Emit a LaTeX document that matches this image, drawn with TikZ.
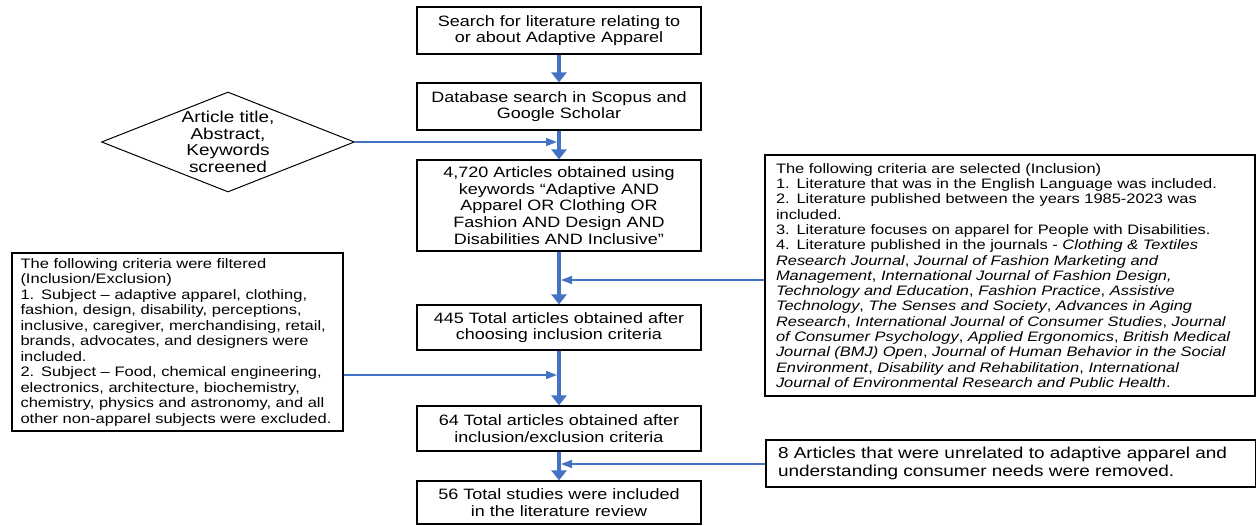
\documentclass[tikz,border=0pt]{standalone}
\usepackage{fontspec}
\setmainfont{Liberation Sans}[FakeStretch=1.2]
\usetikzlibrary{arrows.meta,shapes.geometric}
\definecolor{flowblue}{RGB}{68,114,196}
\hyphenpenalty=10000

\begin{document}
\begin{tikzpicture}[x=1pt,y=-1pt,
stage/.style={draw,line width=1.2pt,minimum width=284pt,inner sep=0pt,align=center,font=\fontsize{15}{16.7}\selectfont},
note/.style={draw,line width=1.2pt,inner xsep=12pt,inner ysep=3pt,align=left},
flow/.style={flowblue,line width=3.3pt,-{Triangle[length=10pt,width=15pt]}},
side/.style={flowblue,line width=1.4pt,-{Triangle[length=11pt,width=8pt]}}]
\useasboundingbox (0,0) rectangle (1256,525);

\node[stage,minimum height=47pt] (search) at (559,30.5) {Search for literature relating to\\or about Adaptive Apparel};
\node[stage,minimum height=47pt] (dbase) at (559,106.5) {Database search in Scopus and\\Google Scholar};
\node[stage,minimum height=91pt] (kwords) at (559,205.5) {4,720 Articles obtained using\\keywords “Adaptive AND\\Apparel OR Clothing OR\\Fashion AND Design AND\\Disabilities AND Inclusive”};
\node[stage,minimum height=45pt] (incl445) at (559,327.5) {445 Total articles obtained after\\choosing inclusion criteria};
\node[stage,minimum height=45pt] (incl64) at (559,428.5) {64 Total articles obtained after\\inclusion/exclusion criteria};
\node[stage,minimum height=43pt] (final56) at (559,502.5) {56 Total studies were included\\in the literature review};

\node[diamond,draw,line width=1pt,aspect=2.53,inner sep=0pt,minimum width=253pt,minimum height=100pt,align=center,font=\fontsize{15.8}{16.7}\selectfont] (screen) at (228,142) {Article title,\\Abstract,\\Keywords\\screened};

\node[note,inner xsep=8.5pt,text width=314pt,minimum height=178pt,font=\fontsize{13.75}{15.5}\selectfont] (filter) at (177.5,342) {The following criteria were filtered\\(Inclusion/Exclusion)\\1. Subject -- adaptive apparel, clothing,\\fashion, design, disability, perceptions,\\inclusive, caregiver, merchandising, retail,\\brands, advocates, and designers were\\included.\\2. Subject -- Food, chemical engineering,\\electronics, architecture, biochemistry,\\chemistry, physics and astronomy, and all\\other non-apparel subjects were excluded.};

\node[note,inner xsep=11pt,text width=468pt,minimum height=241pt,font=\fontsize{13.7}{15.3}\selectfont] (criteria) at (1010,275.5) {The following criteria are selected (Inclusion)\\1. Literature that was in the English Language was included.\\2. Literature published between the years 1985-2023 was\\included.\\3. Literature focuses on apparel for People with Disabilities.\\4. Literature published in the journals - \textit{Clothing \& Textiles}\\\textit{Research Journal}, \textit{Journal of Fashion Marketing and}\\\textit{Management}, \textit{International Journal of Fashion Design,}\\\textit{Technology and Education}, \textit{Fashion Practice}, \textit{Assistive}\\\textit{Technology}, \textit{The Senses and Society}, \textit{Advances in Aging}\\\textit{Research}, \textit{International Journal of Consumer Studies}, \textit{Journal}\\\textit{of Consumer Psychology}, \textit{Applied Ergonomics}, \textit{British Medical}\\\textit{Journal (BMJ) Open}, \textit{Journal of Human Behavior in the Social}\\\textit{Environment}, \textit{Disability and Rehabilitation}, \textit{International}\\\textit{Journal of Environmental Research and Public Health}.};

\node[note,text width=466pt,minimum height=47pt,font=\fontsize{15.8}{17.7}\selectfont] (removed) at (1011,463.5) {8 Articles that were unrelated to adaptive apparel and\\understanding consumer needs were removed.};

\coordinate (j1) at (557,142);
\coordinate (j2) at (561,280);
\coordinate (j3) at (557,375);
\coordinate (j4) at (561,464);

\draw[flow] (search)--(dbase);
\draw[flow] (dbase)--(kwords);
\draw[flow] (kwords)--(incl445);
\draw[flow] (incl445)--(incl64);
\draw[flow] (incl64)--(final56);
\draw[side] (screen.east)--(j1);
\draw[side] (criteria.west|-j2)--(j2);
\draw[side] (filter.east|-j3)--(j3);
\draw[side] (removed.west|-j4)--(j4);
\end{tikzpicture}
\end{document}
